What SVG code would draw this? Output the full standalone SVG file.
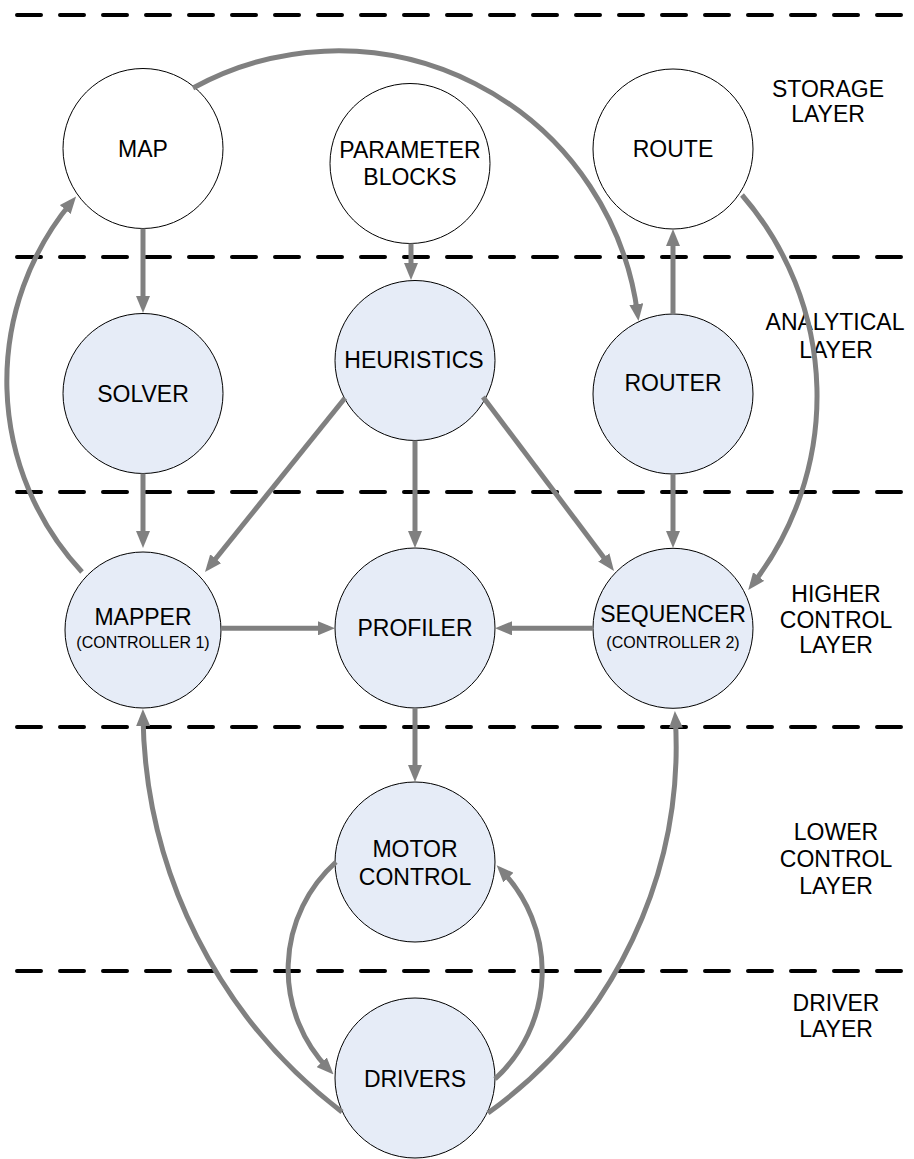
<svg xmlns="http://www.w3.org/2000/svg" width="914" height="1159" viewBox="0 0 914 1159">
  <style>
    .layer-line { stroke: #000; stroke-width: 4; stroke-dasharray: 24 19; stroke-linecap: round; fill: none; }
    .node-white { fill: #ffffff; stroke: #000; stroke-width: 1; }
    .node-blue { fill: #e6ecf7; stroke: #000; stroke-width: 1; }
    .label { font-family: "Liberation Sans", Arial, sans-serif; font-size: 23px; fill: #000; text-anchor: middle; }
    .small { font-family: "Liberation Sans", Arial, sans-serif; font-size: 16px; fill: #000; text-anchor: middle; }
    .conn { stroke: #808080; stroke-width: 5; fill: none; marker-end: url(#arrow); }
  </style>
  <defs>
    <marker id="arrow" markerUnits="userSpaceOnUse" markerWidth="17" markerHeight="14" refX="10" refY="7" orient="auto">
      <path d="M0,0 L17,7 L0,14 z" fill="#808080"/>
    </marker>
  </defs>

  <rect width="914" height="1159" fill="#ffffff"/>

  <!-- layer separators -->
  <g id="layers">
    <line class="layer-line" x1="17" y1="15" x2="903" y2="15"/>
    <line class="layer-line" x1="17" y1="257" x2="903" y2="257"/>
    <line class="layer-line" x1="17" y1="492" x2="903" y2="492"/>
    <line class="layer-line" x1="17" y1="727" x2="903" y2="727"/>
    <line class="layer-line" x1="17" y1="971" x2="903" y2="971"/>
  </g>

  <!-- layer captions -->
  <g id="layer-labels">
    <text class="label" x="828" y="96.5">STORAGE</text>
    <text class="label" x="828" y="122">LAYER</text>
    <text class="label" x="835" y="330">ANALYTICAL</text>
    <text class="label" x="836" y="357.5">LAYER</text>
    <text class="label" x="836" y="601.5">HIGHER</text>
    <text class="label" x="836" y="627.5">CONTROL</text>
    <text class="label" x="836" y="653">LAYER</text>
    <text class="label" x="836" y="840">LOWER</text>
    <text class="label" x="836" y="867">CONTROL</text>
    <text class="label" x="836" y="894">LAYER</text>
    <text class="label" x="836" y="1011">DRIVER</text>
    <text class="label" x="836" y="1037">LAYER</text>
  </g>

  <!-- nodes -->
  <g id="map">
    <circle class="node-white" cx="143" cy="148.5" r="80"/>
    <text class="label" x="143" y="156.5">MAP</text>
  </g>
  <g id="parameter-blocks">
    <circle class="node-white" cx="410" cy="163.5" r="80"/>
    <text class="label" x="410" y="157.5">PARAMETER</text>
    <text class="label" x="410" y="184.5">BLOCKS</text>
  </g>
  <g id="route">
    <circle class="node-white" cx="673" cy="149" r="80"/>
    <text class="label" x="673" y="156.5">ROUTE</text>
  </g>
  <g id="solver">
    <circle class="node-blue" cx="143" cy="393.5" r="80"/>
    <text class="label" x="143" y="401.5">SOLVER</text>
  </g>
  <g id="heuristics">
    <circle class="node-blue" cx="415" cy="360.5" r="80"/>
    <text class="label" x="414" y="367.5">HEURISTICS</text>
  </g>
  <g id="router">
    <circle class="node-blue" cx="673" cy="394" r="80"/>
    <text class="label" x="673" y="391">ROUTER</text>
  </g>
  <g id="mapper">
    <circle class="node-blue" cx="143" cy="630" r="78"/>
    <text class="label" x="143" y="625">MAPPER</text>
    <text class="small" x="143" y="647.5">(CONTROLLER 1)</text>
  </g>
  <g id="profiler">
    <circle class="node-blue" cx="415" cy="628" r="80"/>
    <text class="label" x="415" y="635.5">PROFILER</text>
  </g>
  <g id="sequencer">
    <circle class="node-blue" cx="673" cy="628.3" r="80"/>
    <text class="label" x="673" y="621.5">SEQUENCER</text>
    <text class="small" x="673" y="647.5">(CONTROLLER 2)</text>
  </g>
  <g id="motor-control">
    <circle class="node-blue" cx="415" cy="862" r="80"/>
    <text class="label" x="415" y="856.5">MOTOR</text>
    <text class="label" x="415" y="885">CONTROL</text>
  </g>
  <g id="drivers">
    <circle class="node-blue" cx="415" cy="1078" r="80"/>
    <text class="label" x="415" y="1086.5">DRIVERS</text>
  </g>

  <!-- connectors -->
  <g id="connectors">
    <path class="conn" d="M143,228.5 L143,306"/>
    <path class="conn" d="M411,243.5 L411,273"/>
    <path class="conn" d="M143,473.5 L143,541"/>
    <path class="conn" d="M415,440.5 L415,541"/>
    <path class="conn" d="M673,474 L673,541"/>
    <path class="conn" d="M673,314 L673,236"/>
    <path class="conn" d="M221,628.3 L328,628.3"/>
    <path class="conn" d="M593,628.3 L502,628.3"/>
    <path class="conn" d="M415,708 L415,775"/>
    <path class="conn" d="M345,398 L209.4,566.5"/>
    <path class="conn" d="M483,397 L609.8,565.4"/>
    <path class="conn" d="M82,572 A280,280 0 0 1 71.6,202"/>
    <path class="conn" d="M193,88 A302,302 0 0 1 637.6,314"/>
    <path class="conn" d="M742,195 A307,307 0 0 1 752.5,584.4"/>
    <path class="conn" d="M336,862 A144,144 0 0 0 328.7,1069.4"/>
    <path class="conn" d="M495,1079 A146,146 0 0 0 501.5,870.4"/>
    <path class="conn" d="M342,1112 A506,506 0 0 1 143,716"/>
    <path class="conn" d="M488,1113 A452.5,452.5 0 0 0 675.3,718"/>
  </g>
</svg>
